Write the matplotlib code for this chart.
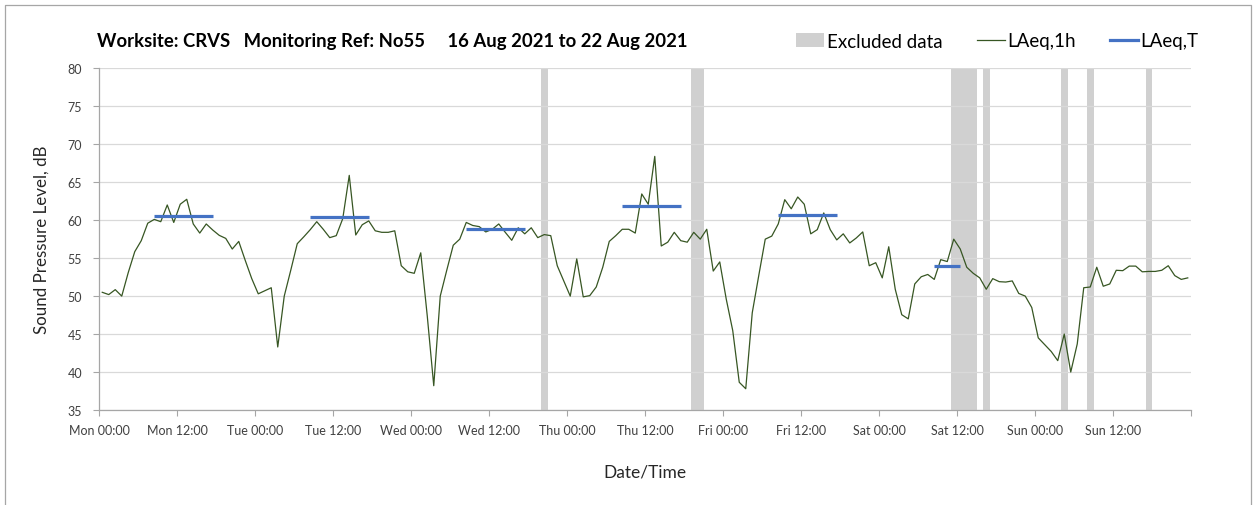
import numpy as np
import matplotlib
matplotlib.use("Agg")
import matplotlib.pyplot as plt
from matplotlib.patches import Patch
from matplotlib.lines import Line2D

plt.rcParams['font.family'] = ['Lato', 'DejaVu Sans']

#### Data: hourly LAeq,1h readings, one list per day (00:00 .. 23:00)
mon = [50.5, 50.2, 50.85, 50.0, 53.1, 55.85, 57.3, 59.6, 60.1, 59.8, 62.0, 59.7,
       62.1, 62.75, 59.5, 58.3, 59.5, 58.7, 58.0, 57.6, 56.2, 57.2, 54.7, 52.3]
tue = [50.3, 50.7, 51.1, 43.3, 50.0, 53.4, 56.9, 57.8, 58.75, 59.8, 58.8, 57.7,
       57.96, 60.2, 65.9, 58.05, 59.4, 59.9, 58.6, 58.4, 58.4, 58.6, 54.0, 53.2]
wed = [53.0, 55.7, 47.4, 38.2, 50.0, 53.4, 56.7, 57.5, 59.7, 59.3, 59.15, 58.45,
       58.8, 59.5, 58.4, 57.35, 59.0, 58.2, 59.0, 57.7, 58.1, 57.96, 54.0, 52.0]
thu = [50.0, 54.9, 49.9, 50.06, 51.2, 53.8, 57.2, 57.96, 58.8, 58.8, 58.3, 63.45,
       62.1, 68.4, 56.6, 57.1, 58.4, 57.3, 57.1, 58.4, 57.5, 58.8, 53.3, 54.5]
fri = [49.6, 45.45, 38.65, 37.8, 47.8, 52.7, 57.5, 57.9, 59.5, 62.7, 61.5, 63.05,
       62.1, 58.2, 58.75, 60.95, 58.75, 57.4, 58.2, 57.0, 57.65, 58.45, 54.0, 54.4]
sat = [52.4, 56.5, 50.9, 47.55, 47.0, 51.6, 52.55, 52.85, 52.2, 54.8, 54.55, 57.5,
       56.2, 53.8, 53.0, 52.4, 50.9, 52.3, 51.9, 51.85, 52.0, 50.35, 50.0, 48.5]
sun = [44.5, 43.6, 42.7, 41.5, 45.0, 40.0, 43.7, 51.1, 51.2, 53.8, 51.3, 51.6,
       53.4, 53.35, 53.95, 53.95, 53.2, 53.25, 53.25, 53.4, 54.0, 52.7, 52.2, 52.4]

# excluded periods (hours from Mon 00:00)
excl_start = [68, 91, 131, 136, 148, 152, 161]
excl_end = [69, 93, 135, 137, 149, 153, 162]

# LAeq,T periods: first and last hour included, level
laeqt_start = [8, 32, 56, 80, 104, 128]
laeqt_end = [17, 41, 65, 89, 113, 132]
laeqt_val = [60.5, 60.45, 58.8, 61.8, 60.7, 53.95]

days = ['Mon', 'Tue', 'Wed', 'Thu', 'Fri', 'Sat', 'Sun']
tick_labels = [f'{d} {t}' for d in days for t in ('00:00', '12:00')] + ['']

level = np.array(mon + tue + wed + thu + fri + sat + sun)
hours = np.arange(len(level)) + 0.5

fig = plt.figure(figsize=(12.53, 5.06), dpi=100)
ax = fig.add_axes([99/1253, 1-411/506, (1191-99)/1253, (411-69.3)/506])

for s, e in zip(excl_start, excl_end):
    ax.axvspan(s, e, color='#D0D0D0', lw=0, zorder=1)

ax.plot(hours, level, color='#375623', lw=0.9, zorder=3)
for s, e, v in zip(laeqt_start, laeqt_end, laeqt_val):
    ax.plot([s + 0.5, e + 0.5], [v, v], color='#4472C4', lw=2.3,
            solid_capstyle='butt', zorder=4)

ax.set_xlim(0, 168)
ax.set_ylim(35, 80)
ax.set_yticks(np.arange(35, 81, 5))
ax.set_xticks(np.arange(0, 169, 12))
ax.set_xticklabels(tick_labels)
ax.set_xticks(np.arange(24, 169, 24), minor=True)
ax.grid(axis='y', color='#D9D9D9', lw=0.9, zorder=0)
ax.grid(axis='x', which='minor', color='#D9D9D9', lw=0.9, zorder=0)
ax.tick_params(which='minor', length=0)
ax.tick_params(axis='both', which='major', colors='#A6A6A6', labelcolor='#404040',
               labelsize=9, length=4, width=0.8)
ax.tick_params(axis='x', pad=6)
ax.tick_params(axis='y', pad=8)
for sp in ['top', 'right']:
    ax.spines[sp].set_visible(False)
for sp in ['left', 'bottom']:
    ax.spines[sp].set_color('#A6A6A6')
    ax.spines[sp].set_linewidth(0.9)

ax.set_ylabel('Sound Pressure Level, dB', fontsize=12.2, color='#262626', labelpad=13)
ax.set_xlabel('Date/Time', fontsize=12.5, color='#262626', labelpad=20)

fig.text(97/1253, 1-42/506, 'Worksite: CRVS   Monitoring Ref: No55     16 Aug 2021 to 22 Aug 2021',
         fontsize=13.3, fontweight='bold', va='center', ha='left', color='#000000')

handles = [Patch(color='#D0D0D0', lw=0),
           Line2D([], [], color='#375623', lw=0.9),
           Line2D([], [], color='#4472C4', lw=2.3)]
fig.legend(handles, ['Excluded data', 'LAeq,1h', 'LAeq,T'], ncol=3, frameon=False,
           loc='center right', bbox_to_anchor=(1210/1253, 1-42/506), fontsize=13.5,
           handlelength=1.5, handletextpad=0.15, columnspacing=1.8,
           borderaxespad=0.2)

# outer chart border
fig.add_artist(plt.Line2D([5/1253, 5/1253, 1251/1253, 1251/1253],
                          [0, 1-6/506, 1-6/506, 0], transform=fig.transFigure,
                          color='#A6A6A6', lw=0.9))

fig.savefig('out.png', dpi=100)
